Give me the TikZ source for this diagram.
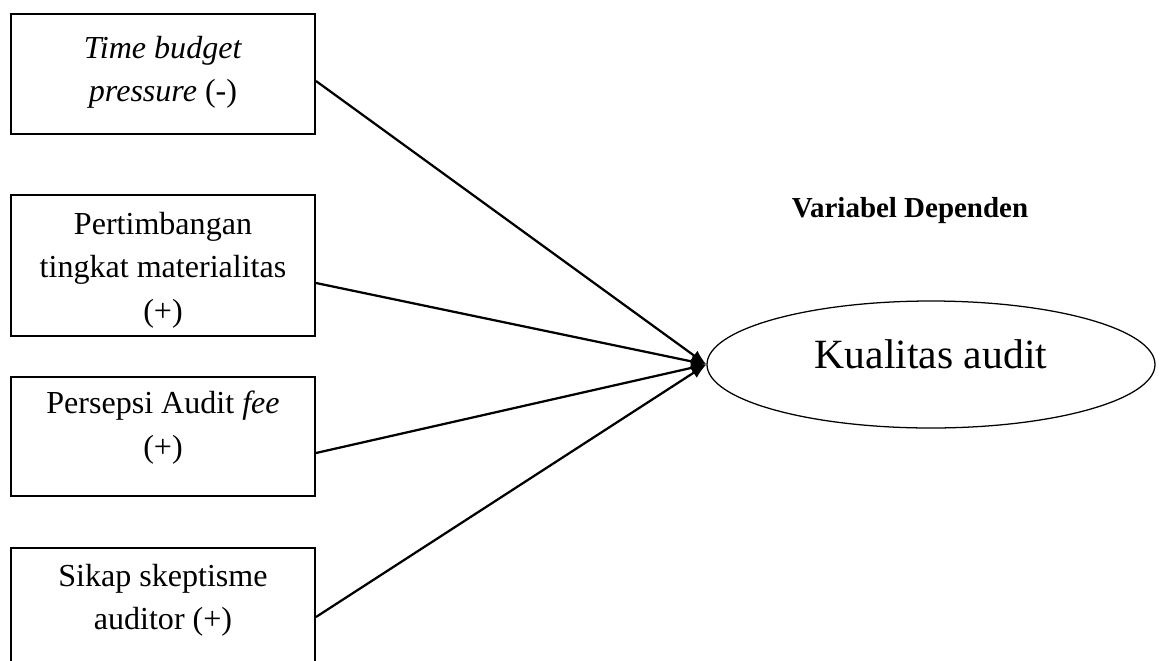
\documentclass[tikz,border=0pt]{standalone}
\usepackage{fontspec}
\setmainfont{Liberation Serif}
\usetikzlibrary{positioning}
\usetikzlibrary{arrows.meta}
\usetikzlibrary{shapes.geometric}
\pgfdeclarelayer{nodelayer}
\pgfdeclarelayer{edgelayer}
\pgfsetlayers{nodelayer,edgelayer,main}
\tikzset{
    none/.style = {inner sep=0pt},
    box/.style = {draw, line width=1.4pt, minimum width=7.6cm, inner sep=0pt},
    boxtext/.style = {align=center, inner sep=0pt, font=\fontsize{22.8}{30.8}\selectfont},
    dv/.style = {draw, ellipse, line width=0.9pt, minimum width=11.2cm, minimum height=3.175cm, inner sep=0pt}
}

\begin{document}
\begin{tikzpicture}[link/.style={line width=1.6pt, -{Latex[length=0.38cm, width=0.3cm]}}]
    \useasboundingbox (0, 0) rectangle (29.2, -16.5);
    \begin{pgfonlayer}{nodelayer}
        \node [box, minimum height=3cm] (tbp) at (4.075, -1.85) {};
        \node [box, minimum height=3.525cm] (ptm) at (4.075, -6.6375) {};
        \node [box, minimum height=2.975cm] (pfa) at (4.075, -10.9125) {};
        \node [box, minimum height=3cm] (ssa) at (4.075, -15.2) {};
        \node [boxtext] (tbp-t) at (4.075, -1.8) {\textit{Time budget}\\\textit{pressure} (-)};
        \node [boxtext] (ptm-t) at (4.075, -6.75) {Pertimbangan\\tingkat materialitas\\(+)};
        \node [boxtext] (pfa-t) at (4.075, -10.69) {Persepsi Audit \textit{fee}\\(+)};
        \node [boxtext] (ssa-t) at (4.075, -15.0) {Sikap skeptisme\\auditor (+)};
        \node [dv] (ka) at (23.275, -9.1125) {};
        \node [style=none, font=\fontsize{29.6}{34}\selectfont] (ka-t) at (23.275, -8.85) {Kualitas audit};
        \node [style=none, font=\fontsize{20.6}{24}\selectfont\bfseries] (vd) at (22.75, -5.275) {Variabel Dependen};
        \coordinate (tbp-out) at ([yshift=-0.175cm]tbp.east);
        \coordinate (ptm-out) at ([yshift=-0.4375cm]ptm.east);
        \coordinate (pfa-out) at ([yshift=-0.4125cm]pfa.east);
        \coordinate (ssa-out) at ([yshift=-0.225cm]ssa.east);
    \end{pgfonlayer}
    \begin{pgfonlayer}{edgelayer}
        % all four meet at the left end of the ellipse
        \draw [link] (tbp-out) to (ka.west);
        \draw [link] (ptm-out) to (ka.west);
        \draw [link] (pfa-out) to (ka.west);
        \draw [link] (ssa-out) to (ka.west);
    \end{pgfonlayer}
\end{tikzpicture}
\end{document}
